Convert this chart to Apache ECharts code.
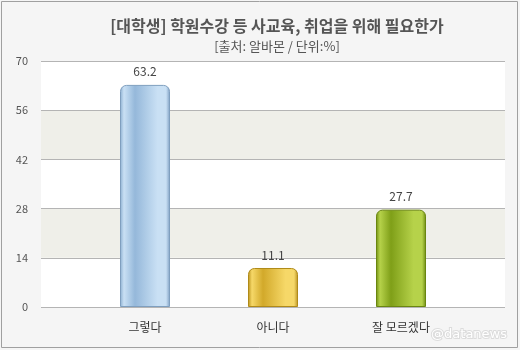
<!DOCTYPE html>
<html><head><meta charset="utf-8">
<script src="https://cdn.jsdelivr.net/npm/echarts@6/dist/echarts.min.js"></script>
<style>html,body{margin:0;padding:0;background:#f5f5f5}#c{width:520px;height:350px}</style>
</head><body><div id="c"></div>
<script>
const titleText = '[대학생] 학원수강 등 사교육, 취업을 위해 필요한가';
const subtitleText = '[출처: 알바몬 / 단위:%]';
const categories = ['그렇다', '아니다', '잘 모르겠다'];
const values = [63.2, 11.1, 27.7];
const yMin = 0, yMax = 70, yInterval = 14;

const FONT = '"Noto Sans CJK KR", "Noto Sans", sans-serif';
function grad(edgeL, dark, light, edgeR) {
  return new echarts.graphic.LinearGradient(0, 0, 1, 0, [
    {offset: 0, color: edgeL},
    {offset: 0.08, color: light},
    {offset: 0.3, color: dark},
    {offset: 0.75, color: light},
    {offset: 0.92, color: light},
    {offset: 1, color: edgeR}
  ]);
}
const barColors = [
  grad('#8aaed0', '#95b8da', '#c9e0f4', '#7d9ec2'),
  grad('#b8901a', '#d2a92a', '#f6d868', '#b89020'),
  grad('#6f8e10', '#7f9f18', '#b6d24a', '#6d8a12')
];
const barBorders = ['#7f9fbf', '#b08a18', '#6a8610'];

const chart = echarts.init(document.getElementById('c'));
chart.setOption({
  backgroundColor: '#f5f5f5',
  animation: false,
  textStyle: {fontFamily: FONT},
  title: [
    {text: titleText, left: 272, top: 13, textAlign: 'center',
     textStyle: {fontSize: 16, fontWeight: 'bold', color: '#555', fontFamily: FONT}},
    {text: subtitleText, left: 272, top: 35, textAlign: 'center',
     textStyle: {fontSize: 13, fontWeight: 'normal', color: '#555', fontFamily: FONT}}
  ],
  graphic: [
    {type: 'rect', shape: {x: 1.5, y: 1.5, width: 516, height: 346},
     style: {fill: 'none', stroke: '#a0a0a0', lineWidth: 1}, silent: true},
    {type: 'text', right: 12, bottom: 8,
     style: {text: '@datanews', fill: '#ffffff', stroke: '#dcdcdc', lineWidth: 2,
             font: '13px "DejaVu Sans", sans-serif'}, silent: true}
  ],
  grid: [
    {left: 41, right: 15, top: 61, bottom: 43, show: true, backgroundColor: '#ffffff', borderWidth: 0},
    {left: 81, right: 55, top: 61, bottom: 43}
  ],
  xAxis: [
    {gridIndex: 0, type: 'category', data: categories, show: false},
    {gridIndex: 1, type: 'category', data: categories,
     axisLine: {show: false}, axisTick: {show: false},
     axisLabel: {color: '#333', fontSize: 12, margin: 14, fontFamily: FONT}}
  ],
  yAxis: [
    {gridIndex: 0, type: 'value', min: yMin, max: yMax, interval: yInterval,
     axisLine: {show: false}, axisTick: {show: false},
     axisLabel: {color: '#555', fontSize: 11, margin: 13, fontFamily: FONT},
     splitLine: {show: true, lineStyle: {color: '#b4b4b4', width: 1}},
     splitArea: {show: true, areaStyle: {color: ['rgba(0,0,0,0)', '#efefe9']}}},
    {gridIndex: 1, type: 'value', min: yMin, max: yMax, interval: yInterval, show: false,
     splitLine: {show: false}}
  ],
  series: [{
    type: 'bar', xAxisIndex: 1, yAxisIndex: 1,
    barWidth: 50,
    data: values.map((v, i) => ({value: v, itemStyle: {color: barColors[i], borderColor: barBorders[i], borderWidth: 1}})),
    itemStyle: {borderRadius: [6, 6, 0, 0]},
    label: {show: true, position: 'top', distance: 7, color: '#444', fontSize: 12, fontFamily: FONT}
  }]
});
</script></body></html>
